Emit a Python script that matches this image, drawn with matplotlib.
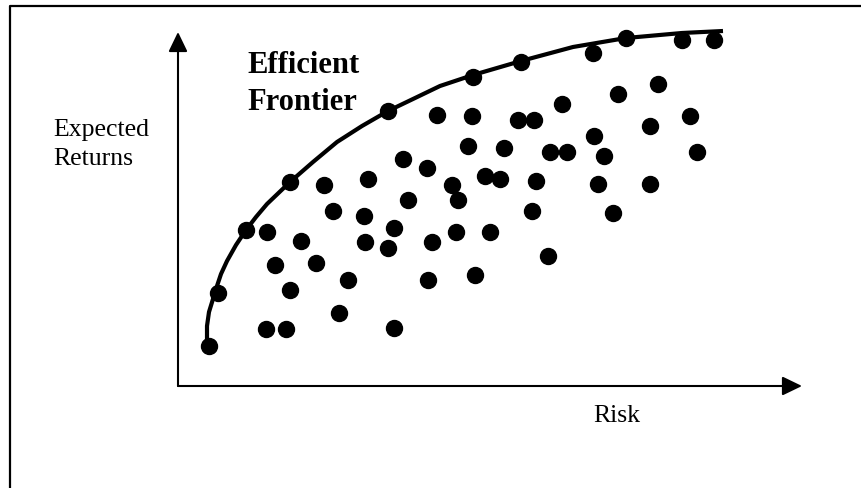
import matplotlib
matplotlib.use("Agg")
import matplotlib.pyplot as plt
from matplotlib.patches import FancyArrowPatch, ArrowStyle
from matplotlib.lines import Line2D

# Portfolio points (risk, expected return) in arbitrary units
risk = [31, 40, 68, 112, 210, 295, 343, 415, 448, 504, 536,
        440, 480, 384, 259, 294, 340, 356, 472, 512,
        290, 326, 372, 389, 416, 426, 519,
        225, 249, 274, 307, 322, 358, 420, 472,
        146, 190, 230, 280, 155, 186, 354, 435,
        89, 123, 187, 216, 210, 254, 278, 312,
        97, 138, 170, 250, 297, 370,
        112, 161, 88, 108, 216]
ret = [40, 93, 156, 204, 275, 309, 324, 333, 348, 346, 346,
       292, 302, 282, 271, 270, 266, 266, 260, 270,
       240, 238, 234, 234, 250, 230, 234,
       227, 218, 201, 210, 207, 205, 202, 202,
       201, 207, 186, 186, 175, 170, 175, 173,
       154, 145, 144, 158, 138, 144, 154, 154,
       121, 123, 106, 106, 111, 130,
       96, 73, 57, 57, 58]

# Efficient frontier curve (risk, return)
front_risk = [29, 29, 31, 35, 38, 43, 49, 58, 68, 78, 89, 112, 135, 159,
              184, 210, 235, 262, 295, 343, 395, 448, 504, 545]
front_ret = [42, 60, 74, 87, 97, 112, 125, 141, 156, 169, 182, 204, 224, 244,
             260, 275, 287, 300, 311, 325, 339, 348, 353, 355]

W, H = 861, 489
fig = plt.figure(figsize=(W / 100, H / 100), dpi=100)
fig.patch.set_facecolor("white")

# outer frame (left and top edges visible)
fig.add_artist(Line2D([10 / W, 10 / W, 1.0], [0.0, 1 - 7 / H, 1 - 7 / H],
                      transform=fig.transFigure, color="black", lw=1.6))

x0, y0 = 178, 387
xmax, ymax = 624, 354
ax = fig.add_axes([x0 / W, (H - y0) / H, xmax / W, ymax / H])
ax.set_xlim(0, xmax)
ax.set_ylim(0, ymax)
ax.axis("off")

style = ArrowStyle("-|>", head_length=12, head_width=5.8)
for end in [(xmax, 0), (0, ymax)]:
    ar = FancyArrowPatch((0, 0), end, arrowstyle=style, mutation_scale=1,
                         color="black", lw=1.5, shrinkA=0, shrinkB=0,
                         clip_on=False)
    ax.add_patch(ar)

ax.plot(front_risk, front_ret, color="black", lw=3, solid_capstyle="butt",
        solid_joinstyle="round", clip_on=False)
ax.plot(risk, ret, "o", color="black", markersize=11.5, clip_on=False)

serif = ["Liberation Serif", "DejaVu Serif"]
ax.text(69, 314, "Efficient", fontsize=22, fontweight="bold", family=serif,
        ha="left", va="baseline")
ax.text(69, 277, "Frontier", fontsize=22, fontweight="bold", family=serif,
        ha="left", va="baseline")
ax.text(-125, 251, "Expected", fontsize=18.5, family=serif,
        ha="left", va="baseline", clip_on=False)
ax.text(-125, 222, "Returns", fontsize=18.5, family=serif,
        ha="left", va="baseline", clip_on=False)
ax.text(415, -35, "Risk", fontsize=18.5, family=serif,
        ha="left", va="baseline", clip_on=False)

fig.savefig("out.png", dpi=100, facecolor="white")
